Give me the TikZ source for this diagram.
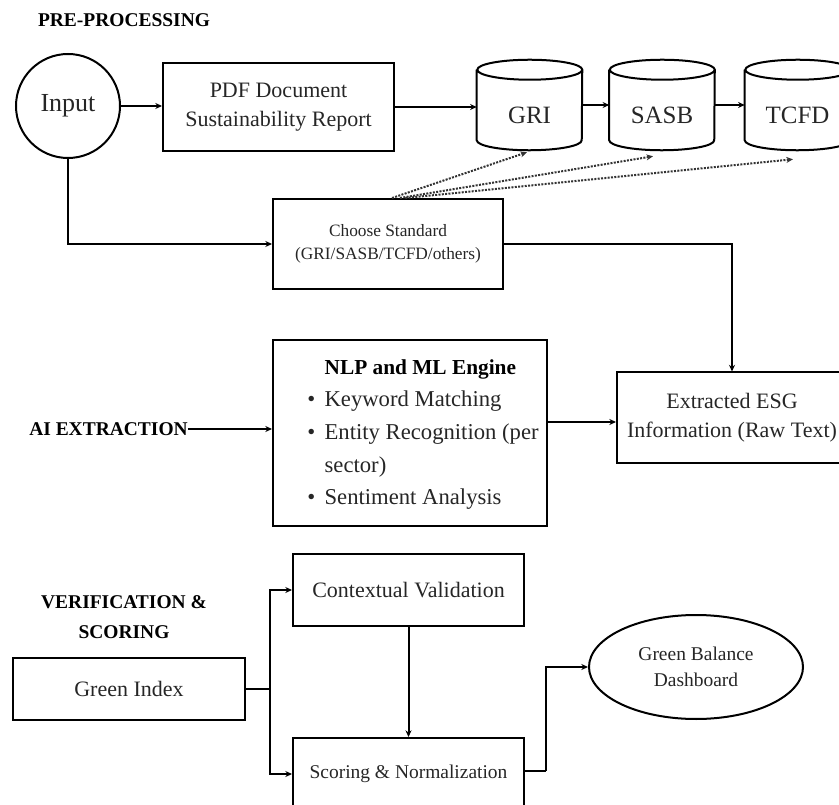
\documentclass[tikz,border=0pt]{standalone}
\usepackage{fontspec}
\setmainfont{Liberation Serif}
\usetikzlibrary{arrows.meta,shapes.geometric}

\begin{document}
\begin{tikzpicture}[x=0.75pt,y=0.75pt]
    \tikzstyle{every node}+=[inner sep=0pt, text=black!85]
    \tikzstyle{box}=[draw=black, line width=1.5pt, align=center, font=\fontsize{16.5}{22}\selectfont]
    \tikzstyle{head}=[align=center, text=black, font=\fontsize{14.6}{22}\selectfont\bfseries]
    \tikzstyle{body}=[align=center, font=\fontsize{18.7}{22}\selectfont, minimum width=78.75pt, minimum height=52.5pt]
    \tikzstyle{line}=[draw=black, line width=1.5pt]
    \tikzstyle{arr}=[line, -{Stealth[length=5pt,width=4.5pt]}]
    \tikzstyle{dots}=[draw=black!80, line width=1.5pt, densely dotted, -{Stealth[length=5pt,width=4.5pt]}]
    \useasboundingbox (0,0) rectangle (839,-805);

    % pre-processing
    \node[head] (pre) at (124,-20) {PRE-PROCESSING};
    \node[box, circle, minimum size=78pt, font=\fontsize{19.5}{22}\selectfont] (input) at (68,-106) {Input};
    \node[box, minimum width=173.25pt, minimum height=66pt] (pdf) at (278.5,-107) {PDF Document\\Sustainability Report};
    \node[body] (gri) at (529.5,-115) {GRI};
    \node[body] (sasb) at (662,-115) {SASB};
    \node[body] (tcfd) at (797.5,-115) {TCFD};
    \foreach \c in {gri,sasb,tcfd}
        \draw[line] ([yshift=7.5pt]\c.north west) -- ([yshift=7.5pt]\c.south west)
            arc[start angle=180, end angle=360, x radius=39.375pt, y radius=7.5pt]
            -- ([yshift=7.5pt]\c.north east)
            arc[start angle=0, end angle=360, x radius=39.375pt, y radius=7.5pt];
    \node[box, minimum width=172.5pt, minimum height=67.5pt, font=\fontsize{13}{17}\selectfont] (choose) at (388,-244) {Choose Standard\\(GRI/SASB/TCFD/others)};

    % ai extraction
    \node[head] (ai) at (108.5,-429) {AI EXTRACTION};
    \node[box, minimum width=205.5pt, minimum height=139.5pt, font=\fontsize{17}{20}\selectfont] (nlp) at (410,-433) {\hspace*{19.5pt}\renewcommand{\arraystretch}{1.22}\begin{tabular}{@{}l@{\hspace{7pt}}l@{}}
        & {\fontsize{16}{19}\selectfont\bfseries\color{black} NLP and ML Engine}\\
        \textbullet & Keyword Matching\\
        \textbullet & Entity Recognition (per\\
        & sector)\\
        \textbullet & Sentiment Analysis
    \end{tabular}};
    \node[box, minimum width=172.5pt, minimum height=68.25pt] (extr) at (732,-418) {Extracted ESG\\Information (Raw Text)};

    % verification and scoring
    \node[head] (ver) at (124,-617) {VERIFICATION \&\\SCORING};
    \node[box, minimum width=174pt, minimum height=46.5pt] (gi) at (129,-689) {Green Index};
    \node[box, minimum width=173.25pt, minimum height=54pt] (ctx) at (408.5,-590) {Contextual Validation};
    \node[box, minimum width=173.25pt, minimum height=54pt, font=\fontsize{14.6}{18}\selectfont] (score) at (408.5,-774) {Scoring \& Normalization};
    \node[box, ellipse, minimum width=160.5pt, minimum height=78pt, font=\fontsize{14.6}{19}\selectfont] (dash) at (696,-667) {Green Balance\\Dashboard};
    \coordinate (split) at (270,-689);
    \coordinate (turn) at (546,-771);

    % connectors
    \draw[arr] (input.east) -- (input.east -| pdf.west);
    \draw[arr] (pdf.east) -- (pdf.east -| gri.west);
    \draw[arr] ([yshift=7.5pt]gri.east) -- ([yshift=7.5pt]sasb.west);
    \draw[arr] ([yshift=7.5pt]sasb.east) -- ([yshift=7.5pt]tcfd.west);
    \draw[arr] (input.south) |- (choose.west);
    \draw[dots] ([xshift=3pt]choose.north) -- ([shift={(-1.9pt,-1.5pt)}]gri.south);
    \draw[dots] ([xshift=9pt]choose.north) -- ([shift={(-6.75pt,-4.5pt)}]sasb.south);
    \draw[dots] ([xshift=13pt]choose.north) -- ([shift={(-3.4pt,-6.75pt)}]tcfd.south);
    \draw[arr] (choose.east) -| (extr.north);
    \draw[arr] (ai.east) -- (ai.east -| nlp.west);
    \draw[arr] ([yshift=-3pt]nlp.east |- extr.west) -- ([yshift=-3pt]extr.west);
    \draw[line] (gi.east) -- (split);
    \draw[arr] (split) |- (ctx.west);
    \draw[arr] (split) |- (score.west);
    \draw[arr] (ctx.south) -- (score.north);
    \draw[line] (score.east |- turn) -- (turn);
    \draw[arr] (turn) |- (dash.west);
\end{tikzpicture}
\end{document}
